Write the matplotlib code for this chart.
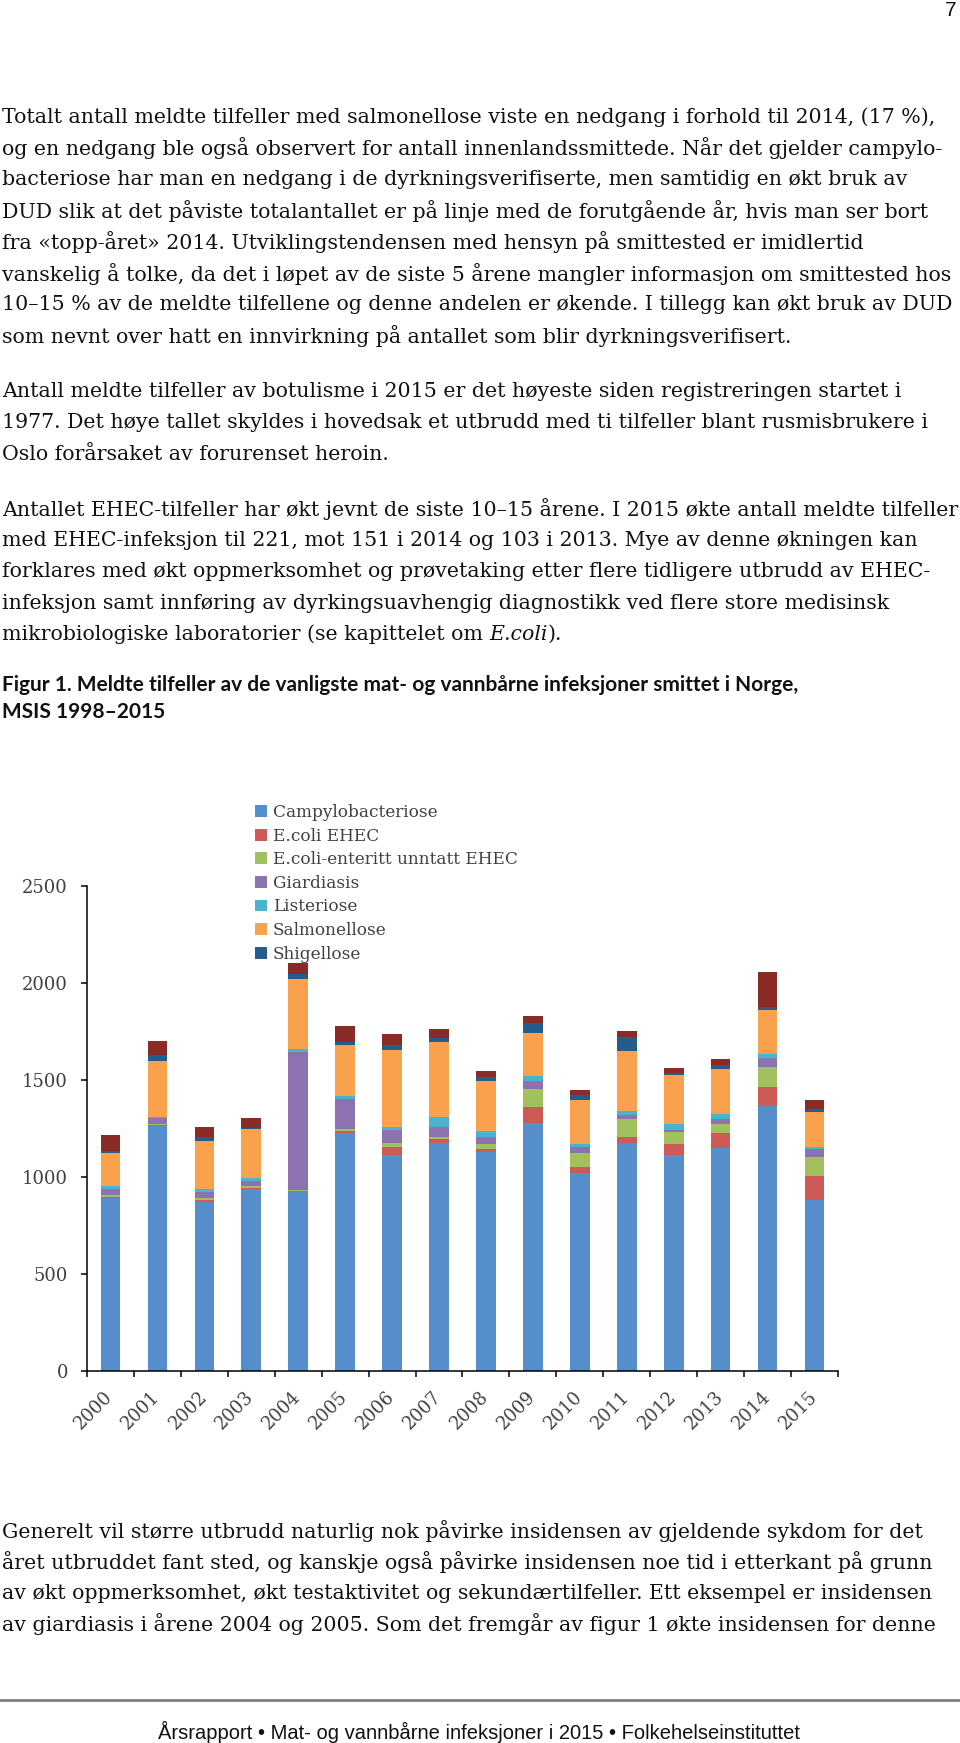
import matplotlib
matplotlib.use("Agg")
import matplotlib.pyplot as plt
import matplotlib.transforms as mtransforms
import numpy as np

# chart data (Figur 1)
years = ["2000", "2001", "2002", "2003", "2004", "2005", "2006", "2007",
         "2008", "2009", "2010", "2011", "2012", "2013", "2014", "2015"]
campylobacteriose = [892, 1262, 872, 937, 925, 1228, 1112, 1172, 1128, 1279, 1018, 1172, 1113, 1147, 1367, 878]
ecoli_ehec = [5, 5, 8, 7, 4, 8, 40, 21, 13, 83, 34, 31, 56, 80, 96, 126]
ecoli_enteritt = [9, 8, 12, 10, 4, 9, 24, 14, 28, 89, 72, 93, 60, 43, 103, 100]
giardiasis = [29, 26, 28, 26, 712, 158, 65, 51, 38, 41, 28, 21, 12, 30, 47, 37]
listeriose = [17, 10, 17, 15, 14, 14, 17, 52, 31, 28, 17, 24, 29, 22, 22, 14]
salmonellose = [169, 287, 247, 250, 359, 263, 396, 387, 258, 223, 227, 309, 255, 236, 227, 181]
shigellose = [12, 31, 19, 8, 26, 13, 26, 17, 17, 48, 24, 69, 12, 20, 12, 12]
yersiniose = [81, 72, 55, 52, 57, 85, 56, 46, 31, 38, 27, 34, 26, 31, 181, 48]

series_names = ["Campylobacteriose", "E.coli EHEC", "E.coli-enteritt unntatt EHEC",
                "Giardiasis", "Listeriose", "Salmonellose", "Shigellose", "Yersiniose"]
series_values = [campylobacteriose, ecoli_ehec, ecoli_enteritt, giardiasis,
                 listeriose, salmonellose, shigellose, yersiniose]
series_colors = ["#558ECB", "#CD5A55", "#A3C05F", "#8C72AE",
                 "#4BB3D0", "#F9A14C", "#255C8E", "#8B2B26"]

yticks = [0, 500, 1000, 1500, 2000, 2500]

# page text
para1 = [
    "Totalt antall meldte tilfeller med salmonellose viste en nedgang i forhold til 2014, (17 %),",
    "og en nedgang ble også observert for antall innenlandssmittede. Når det gjelder campylo-",
    "bacteriose har man en nedgang i de dyrkningsverifiserte, men samtidig en økt bruk av",
    "DUD slik at det påviste totalantallet er på linje med de forutgående år, hvis man ser bort",
    "fra «topp-året» 2014. Utviklingstendensen med hensyn på smittested er imidlertid",
    "vanskelig å tolke, da det i løpet av de siste 5 årene mangler informasjon om smittested hos",
    "10–15 % av de meldte tilfellene og denne andelen er økende. I tillegg kan økt bruk av DUD",
    "som nevnt over hatt en innvirkning på antallet som blir dyrkningsverifisert.",
]
para2 = [
    "Antall meldte tilfeller av botulisme i 2015 er det høyeste siden registreringen startet i",
    "1977. Det høye tallet skyldes i hovedsak et utbrudd med ti tilfeller blant rusmisbrukere i",
    "Oslo forårsaket av forurenset heroin.",
]
para3 = [
    "Antallet EHEC-tilfeller har økt jevnt de siste 10–15 årene. I 2015 økte antall meldte tilfeller",
    "med EHEC-infeksjon til 221, mot 151 i 2014 og 103 i 2013. Mye av denne økningen kan",
    "forklares med økt oppmerksomhet og prøvetaking etter flere tidligere utbrudd av EHEC-",
    "infeksjon samt innføring av dyrkingsuavhengig diagnostikk ved flere store medisinsk",
]
para3_last = ["mikrobiologiske laboratorier (se kapittelet om ", "E.coli", ")."]
caption = ["Figur 1. Meldte tilfeller av de vanligste mat- og vannbårne infeksjoner smittet i Norge,",
           "MSIS 1998–2015"]
para4 = [
    "Generelt vil større utbrudd naturlig nok påvirke insidensen av gjeldende sykdom for det",
    "året utbruddet fant sted, og kanskje også påvirke insidensen noe tid i etterkant på grunn",
    "av økt oppmerksomhet, økt testaktivitet og sekundærtilfeller. Ett eksempel er insidensen",
    "av giardiasis i årene 2004 og 2005. Som det fremgår av figur 1 økte insidensen for denne",
]
footer = "Årsrapport • Mat- og vannbårne infeksjoner i 2015 • Folkehelseinstituttet"

W, H = 960, 1743
fig = plt.figure(figsize=(W / 100, H / 100), dpi=100)
fig.patch.set_facecolor("white")
renderer = fig.canvas.get_renderer()


def text_width(s, size, **kw):
    t = fig.text(0, 0, s, fontsize=size, **kw)
    w = t.get_window_extent(renderer).width
    t.remove()
    return w


def fit_size(lines, target_px, **kw):
    # largest font size at which every line stays within target_px
    return min(10 * target_px / text_width(s, 10, **kw) for s in lines)


# page layer in pixel coordinates
page = fig.add_axes([0, 0, 1, 1])
page.set_xlim(0, W)
page.set_ylim(H, 0)
page.axis("off")

serif = "DejaVu Serif"
all_body = para1 + para2 + para3 + ["".join(para3_last)] + para4
body_size = fit_size(all_body, 952, family=serif)
body_font = dict(family=serif, fontsize=body_size, color="#111111", va="center")
line_h = 31.3

page.text(957, 1, "7", family="Liberation Sans", fontsize=15, ha="right", va="top", color="#111111")

y = 117.0
for line in para1:
    page.text(2, y, line, **body_font)
    y += line_h
y += 24
for line in para2:
    page.text(2, y, line, **body_font)
    y += line_h
y += 24
for line in para3:
    page.text(2, y, line, **body_font)
    y += line_h
t1 = page.text(2, y, para3_last[0], **body_font)
t2 = page.annotate(para3_last[1], xy=(1, 0.5), xycoords=t1, va="center", ha="left",
                   family=serif, fontsize=body_size, color="#111111", style="italic")
page.annotate(para3_last[2], xy=(1, 0.5), xycoords=t2, va="center", ha="left",
              family=serif, fontsize=body_size, color="#111111")

cap_size = fit_size(caption[:1], 798, family="Lato", fontweight="bold")
page.text(2, 685, caption[0], family="Lato", fontweight="bold", fontsize=cap_size, va="center", color="#111111")
page.text(2, 712, caption[1], family="Lato", fontweight="bold", fontsize=cap_size, va="center", color="#111111")

y = 1530.5
for line in para4:
    page.text(2, y, line, **body_font)
    y += line_h

page.plot([0, W], [1700, 1700], color="#808080", lw=2)
foot_size = fit_size([footer], 642, family="Liberation Sans")
page.text(479, 1732, footer, family="Liberation Sans", fontsize=foot_size, ha="center", va="center", color="#111111")

# chart
ax = fig.add_axes([86.7 / W, 1 - 1370.7 / H, (838.3 - 86.7) / W, (1370.7 - 886) / H])
ax.set_facecolor("none")
x = np.arange(len(years)) + 0.5
bottom = np.zeros(len(years))
handles = []
for name, vals, col in zip(series_names, series_values, series_colors):
    bars = ax.bar(x, vals, width=0.41, bottom=bottom, color=col, linewidth=0)
    handles.append(bars)
    bottom += np.array(vals)

ax.set_xlim(0, len(years))
ax.set_ylim(0, 2500)
ax.set_yticks(yticks)
ax.set_yticklabels([str(v) for v in yticks], family=serif, fontsize=13, color="#404040")
ax.set_xticks(np.arange(len(years) + 1))
ax.set_xticklabels([])
ax.set_xticks(x, minor=True)
ax.set_xticklabels(years, minor=True, rotation=45, ha="right", va="center",
                   rotation_mode="anchor", family=serif, fontsize=13, color="#404040")
shift = mtransforms.ScaledTranslation(7 / 100, 0, fig.dpi_scale_trans)
for lab in ax.get_xticklabels(minor=True):
    lab.set_transform(lab.get_transform() + shift)
ax.tick_params(axis="x", which="minor", length=0, pad=17)
ax.tick_params(axis="both", which="major", length=4.5, width=1.1, direction="out")
ax.tick_params(axis="y", pad=9)
for side in ["top", "right"]:
    ax.spines[side].set_visible(False)
for side in ["left", "bottom"]:
    ax.spines[side].set_linewidth(1.1)

# legend shows the first seven series as in the reference
fig.legend(handles[:7], series_names[:7], loc="upper left",
           bbox_to_anchor=(255 / W, 1 - 804 / H), frameon=False,
           prop={"family": serif, "size": 12.2},
           labelcolor="#404040", handlelength=0.7, handleheight=0.7,
           handletextpad=0.35, labelspacing=0.39, borderpad=0, borderaxespad=0)

fig.savefig("out.png", dpi=100, facecolor="white")
